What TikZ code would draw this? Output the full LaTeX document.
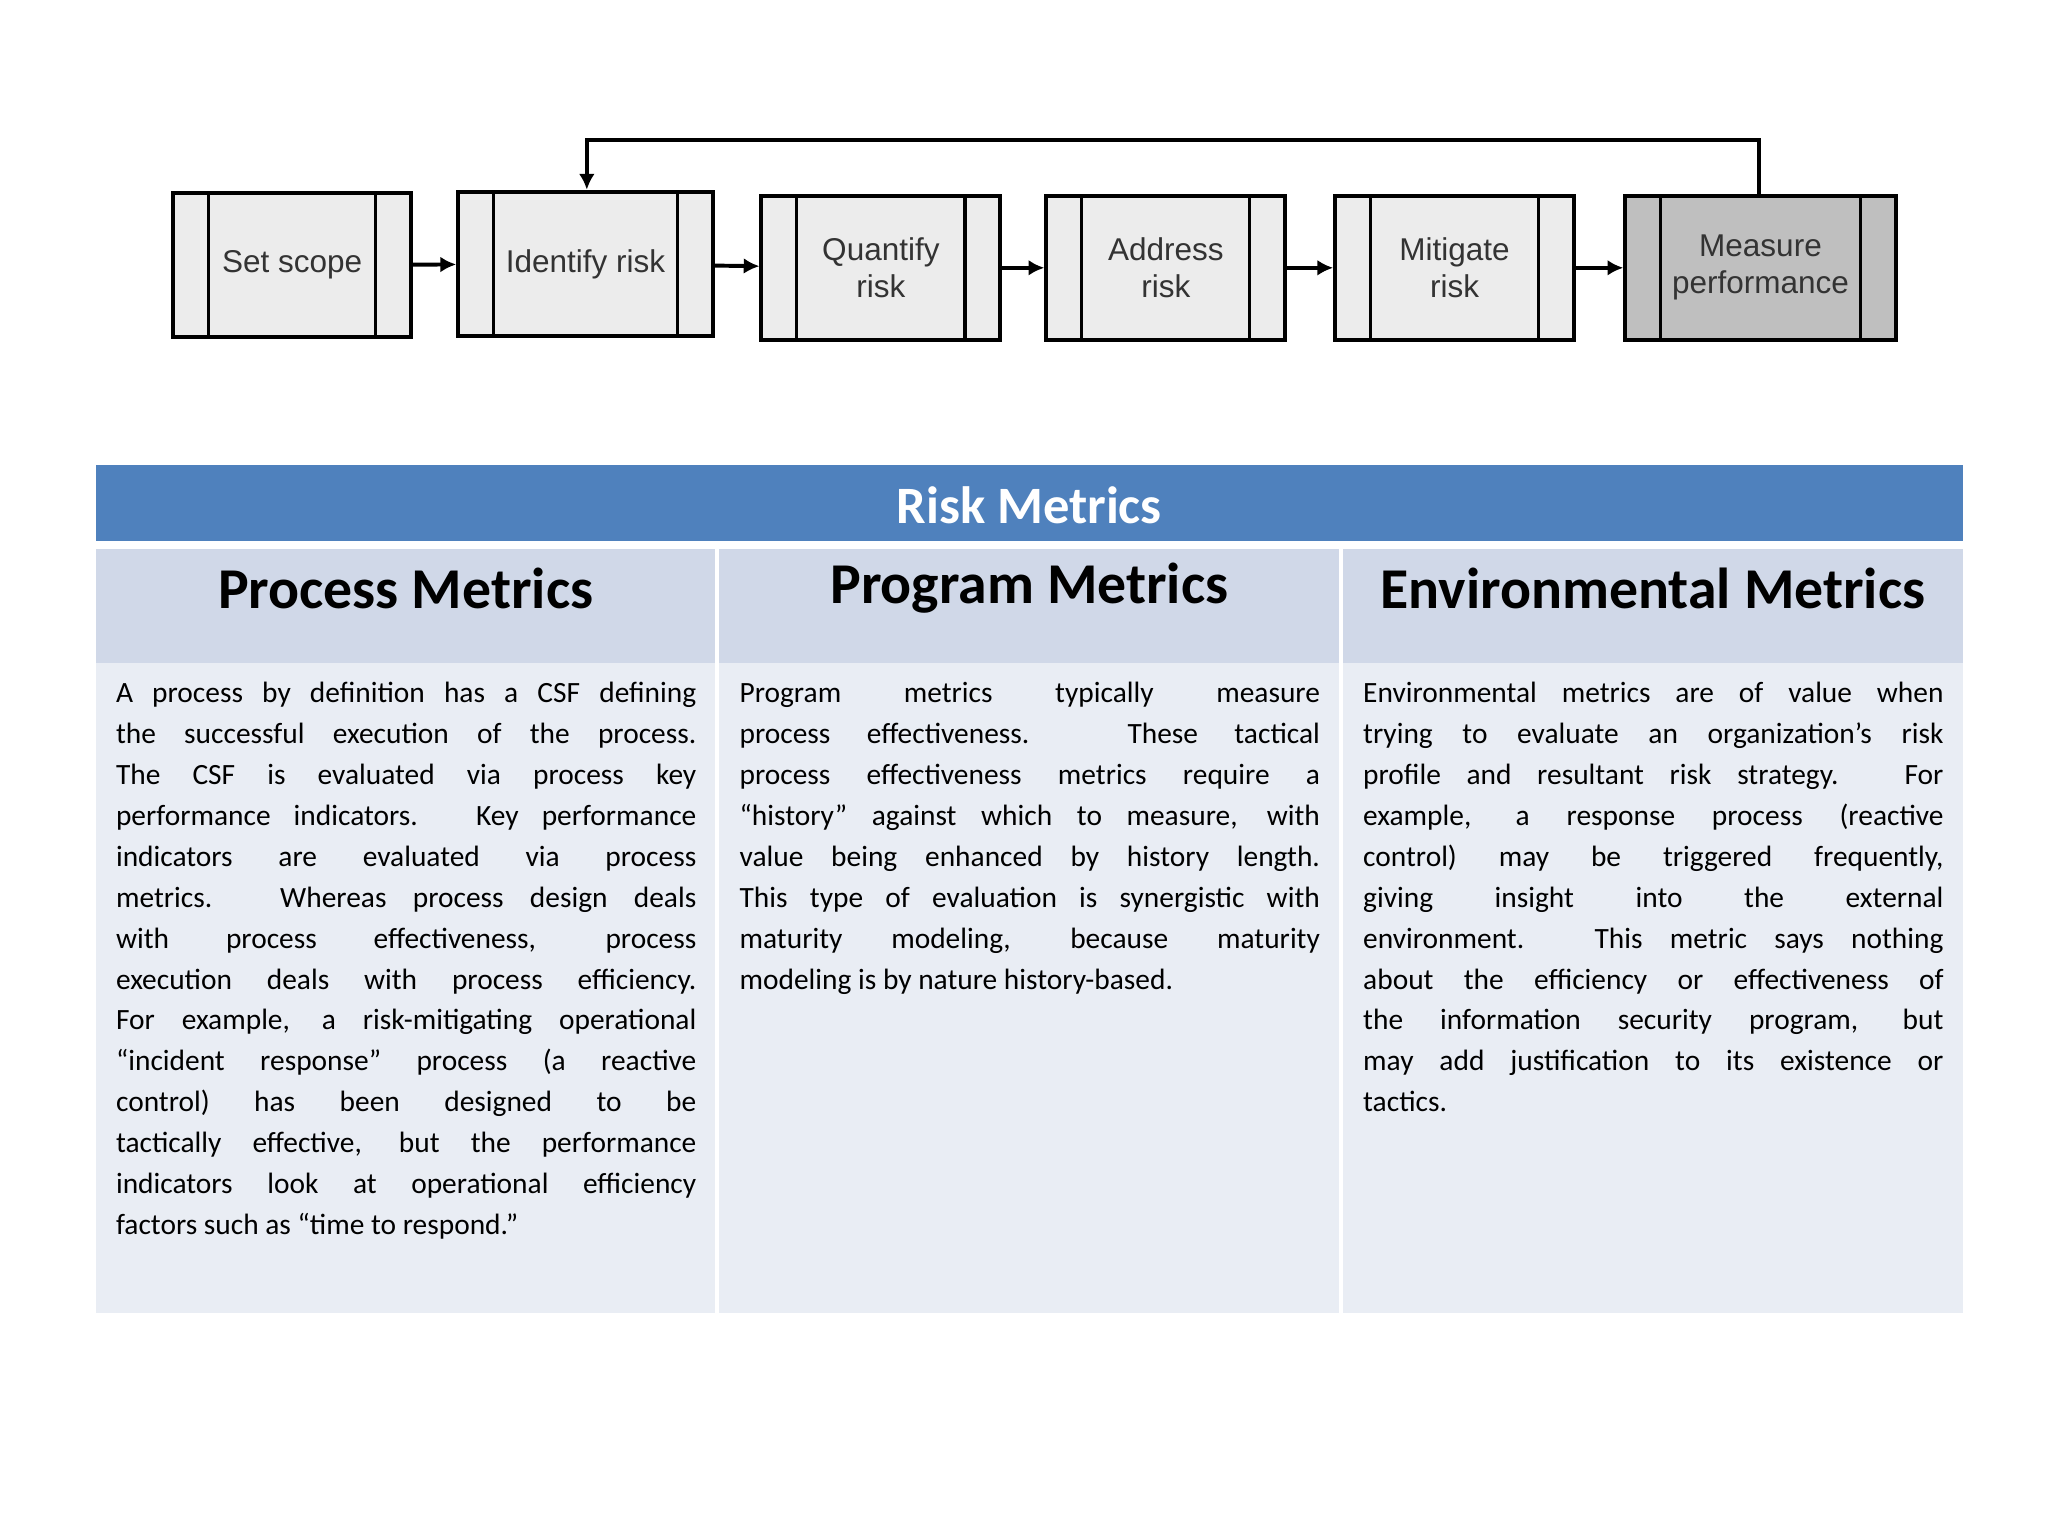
\documentclass[tikz,border=0pt]{standalone}
\usepackage{fontspec}
\setmainfont{Carlito}
\newfontfamily\arialf{Liberation Sans}
\usetikzlibrary{arrows.meta,calc}
\begin{document}
\begin{tikzpicture}[x=0.5pt,y=-0.5pt,
  rbox/.style={draw=black,line width=1.5pt,fill=gray!15,minimum height=55pt,inner sep=0pt,align=center,font=\arialf\fontsize{12}{14}\selectfont,text=black!80,
   path picture={\draw[line width=1.2pt] ($(path picture bounding box.north west)+(13.5pt,0)$) -- ($(path picture bounding box.south west)+(13.5pt,0)$);
                 \draw[line width=1.2pt] ($(path picture bounding box.north east)+(-13.5pt,0)$) -- ($(path picture bounding box.south east)+(-13.5pt,0)$);}},
  flow/.style={-{Latex[length=6pt,width=6pt]},line width=1.5pt},
  body/.style={anchor=north west,text width=221pt,align=justify,inner sep=0pt,font=\fontsize{11.2}{15.6}\selectfont},
  colhead/.style={font=\bfseries\fontsize{22}{24}\selectfont}]
\useasboundingbox (0,0) rectangle (1560,1170);
\fill[white] (0,0) rectangle (1560,1170);
% boxes
\node[rbox,minimum width=90.5pt] (s1) at (222.5,202) {Set scope};
\node[rbox,minimum width=97pt] (s2) at (446,201) {Identify risk};
\node[rbox,minimum width=91pt] (s3) at (671,204) {Quantify\\risk};
\node[rbox,minimum width=91pt] (s4) at (888,204) {Address\\risk};
\node[rbox,minimum width=91pt] (s5) at (1108,204) {Mitigate\\risk};
\node[rbox,minimum width=103pt,fill=gray!50] (s6) at (1341,204) {Measure\\performance};
\draw[flow] (s1) -- (s2);
\draw[flow] (s2) -- (s3);
\draw[flow] (s3) -- (s4);
\draw[flow] (s4) -- (s5);
\draw[flow] (s5) -- (s6);
\coordinate (c1) at (1340,107);
\coordinate (c2) at (447,107);
\draw[flow] (s6.north -| c1) -- (c1) -- (c2) -- (s2.north -| c2);
% table
\definecolor{hblue}{HTML}{4F81BD}
\definecolor{row1}{HTML}{D0D8E8}
\definecolor{row2}{HTML}{E9EDF4}
\fill[hblue] (73,354) rectangle (1495,412);
\fill[row1] (73,418) rectangle (1495,505);
\fill[row2] (73,505) rectangle (1495,1000);
\fill[white] (545,418) rectangle (548,1000);
\fill[white] (1020,418) rectangle (1023,1000);
\node[text=white,font=\bfseries\fontsize{20}{22}\selectfont] (th) at (784,385) {Risk Metrics};
\node[colhead] (h1) at (309,448) {Process Metrics};
\node[colhead] (h2) at (784,448) {Program Metrics};
\node[colhead] (h3) at (1259,448) {Environmental Metrics};
\node[body] (b1) at (88,519) {\hyphenpenalty=10000
A process by definition has a CSF defining\linebreak
the successful execution of the process.\linebreak
The CSF is evaluated via process key\linebreak
performance indicators. Key performance\linebreak
indicators are evaluated via process\linebreak
metrics. Whereas process design deals\linebreak
with process effectiveness, process\linebreak
execution deals with process efficiency.\linebreak
For example, a risk-mitigating operational\linebreak
“incident response” process (a reactive\linebreak
control) has been designed to be\linebreak
tactically effective, but the performance\linebreak
indicators look at operational efficiency\linebreak
factors such as “time to respond.”};
\node[body] (b2) at (563,519) {\hyphenpenalty=10000
Program metrics typically measure\linebreak
process effectiveness. These tactical\linebreak
process effectiveness metrics require a\linebreak
“history” against which to measure, with\linebreak
value being enhanced by history length.\linebreak
This type of evaluation is synergistic with\linebreak
maturity modeling, because maturity\linebreak
modeling is by nature history-based.};
\node[body] (b3) at (1038,519) {\hyphenpenalty=10000
Environmental metrics are of value when\linebreak
trying to evaluate an organization’s risk\linebreak
profile and resultant risk strategy. For\linebreak
example, a response process (reactive\linebreak
control) may be triggered frequently,\linebreak
giving insight into the external\linebreak
environment. This metric says nothing\linebreak
about the efficiency or effectiveness of\linebreak
the information security program, but\linebreak
may add justification to its existence or\linebreak
tactics.};
\end{tikzpicture}
\end{document}
